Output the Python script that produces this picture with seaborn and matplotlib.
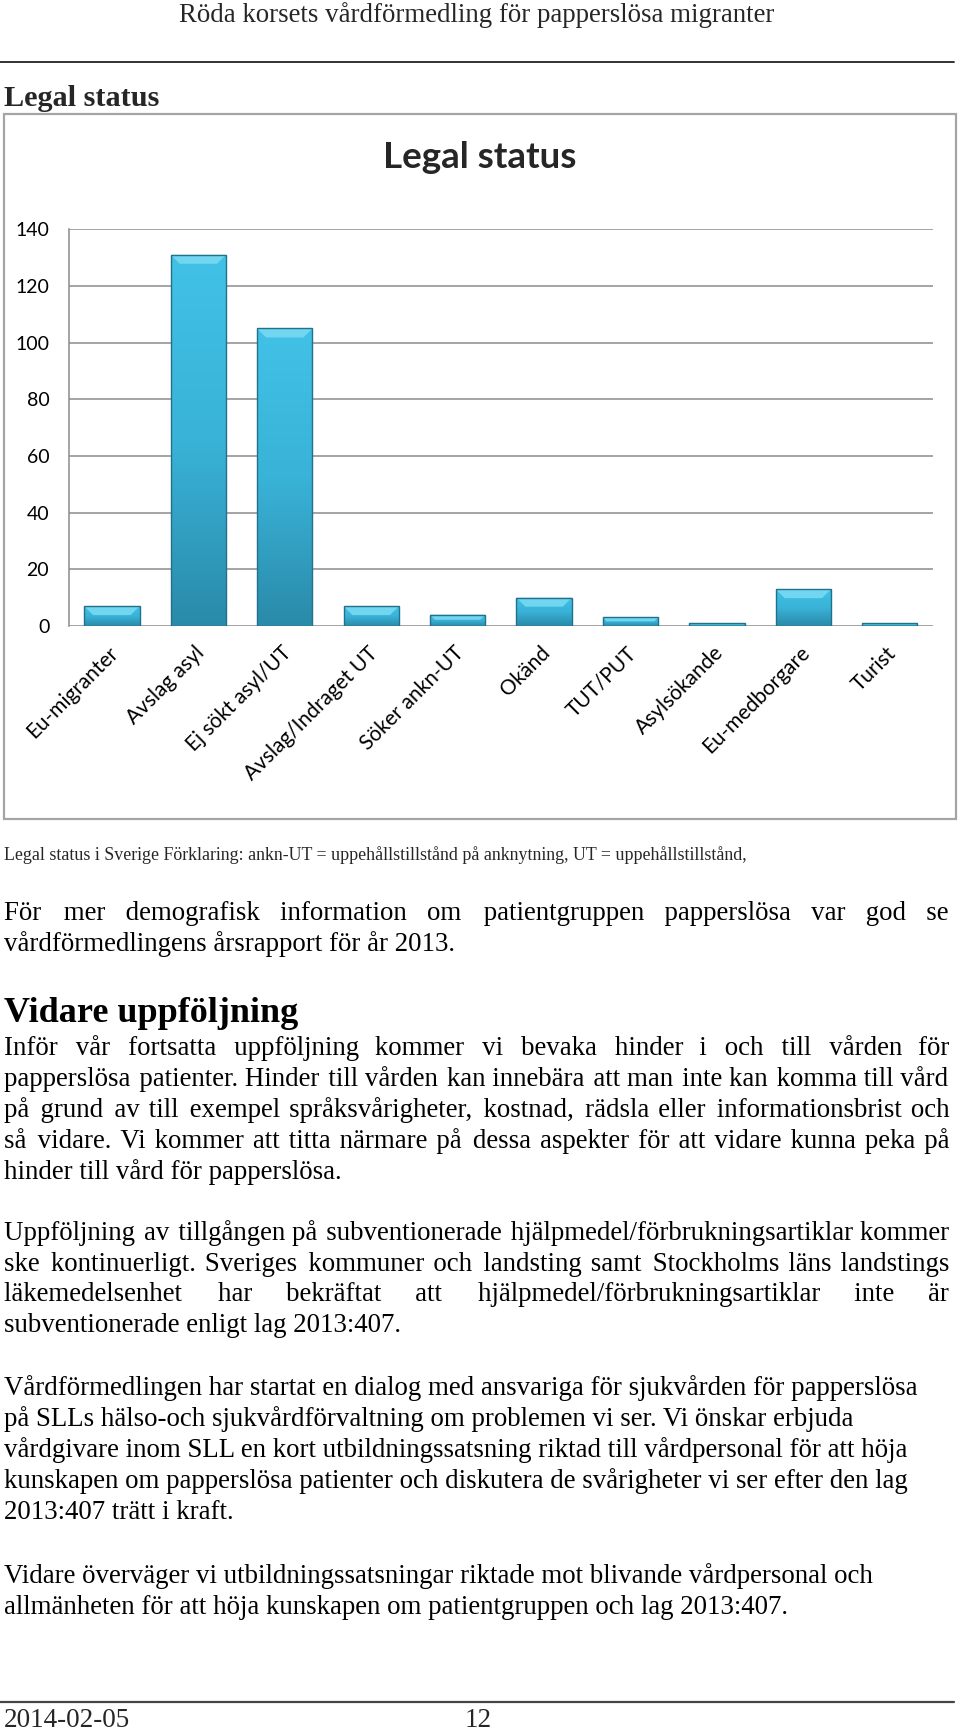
import numpy as np
import matplotlib
matplotlib.use("Agg")
import matplotlib.pyplot as plt
import seaborn as sns
from matplotlib.colors import LinearSegmentedColormap
from matplotlib.patches import Polygon, Rectangle
from matplotlib.lines import Line2D
import matplotlib.transforms as mtransforms

# ---------------- data ----------------
categories = ["Eu-migranter", "Avslag asyl", "Ej sökt asyl/UT", "Avslag/Indraget UT",
              "Söker ankn-UT", "Okänd", "TUT/PUT", "Asylsökande", "Eu-medborgare", "Turist"]
values = [7, 131, 105, 7, 4, 10, 3, 1, 13, 1]
y_ticks = [0, 20, 40, 60, 80, 100, 120, 140]
chart_title = "Legal status"

header_text = "Röda korsets vårdförmedling för papperslösa migranter"
section_title = "Legal status"
caption_text = ("Legal status i Sverige Förklaring: ankn-UT = uppehållstillstånd på anknytning, "
                "UT = uppehållstillstånd,")
para1 = [("För mer demografisk information om patientgruppen papperslösa var god se", True),
         ("vårdförmedlingens årsrapport för år 2013.", False)]
heading2 = "Vidare uppföljning"
para2 = [("Inför vår fortsatta uppföljning kommer vi bevaka hinder i och till vården för", True),
         ("papperslösa patienter. Hinder till vården kan innebära att man inte kan komma till vård", True),
         ("på grund av till exempel språksvårigheter, kostnad, rädsla eller informationsbrist och", True),
         ("så vidare. Vi kommer att titta närmare på dessa aspekter för att vidare kunna peka på", True),
         ("hinder till vård för papperslösa.", False)]
para3 = [("Uppföljning av tillgången på subventionerade hjälpmedel/förbrukningsartiklar kommer", True),
         ("ske kontinuerligt. Sveriges kommuner och landsting samt Stockholms läns landstings", True),
         ("läkemedelsenhet har bekräftat att hjälpmedel/förbrukningsartiklar inte är", True),
         ("subventionerade enligt lag 2013:407.", False)]
para4 = [("Vårdförmedlingen har startat en dialog med ansvariga för sjukvården för papperslösa", False),
         ("på SLLs hälso-och sjukvårdförvaltning om problemen vi ser. Vi önskar erbjuda", False),
         ("vårdgivare inom SLL en kort utbildningssatsning riktad till vårdpersonal för att höja", False),
         ("kunskapen om papperslösa patienter och diskutera de svårigheter vi ser efter den lag", False),
         ("2013:407 trätt i kraft.", False)]
para5 = [("Vidare överväger vi utbildningssatsningar riktade mot blivande vårdpersonal och", False),
         ("allmänheten för att höja kunskapen om patientgruppen och lag 2013:407.", False)]
footer_date = "2014-02-05"
footer_page = "12"

# ---------------- style ----------------
sns.set_theme(style="white")
SERIF = ["Liberation Serif", "DejaVu Serif"]
SANS = ["Lato", "DejaVu Sans"]
plt.rcParams["font.family"] = SANS

W, H = 960, 1730
fig = plt.figure(figsize=(W / 100, H / 100), dpi=100)
fig.patch.set_facecolor("white")

# page layer (pixel coordinates)
page = fig.add_axes([0, 0, 1, 1], zorder=0)
page.set_xlim(0, W)
page.set_ylim(H, 0)
page.axis("off")

# chart frame
page.add_patch(Rectangle((3.5, 114), 952, 705, fill=False, edgecolor="#A5A5A5", lw=1.6))

# ---------------- chart ----------------
L, R, T, B = 68.7, 933, 229.3, 626
ax = fig.add_axes([L / W, 1 - B / H, (R - L) / W, (B - T) / H], zorder=2)
ax.set_facecolor("none")

sns.barplot(x=categories, y=values, color="#38B2D6", saturation=1, width=0.64,
            ax=ax, zorder=3)
ax.set_ylim(0, 140)
ax.set_xlim(-0.5, len(categories) - 0.5)
ax.set_yticks(y_ticks)
ax.yaxis.grid(True, color="#8C8C8C", lw=1.1, zorder=0)
ax.set_axisbelow(True)
for s in ["top", "right", "bottom"]:
    ax.spines[s].set_visible(False)
ax.spines["left"].set_color("#8C8C8C")
ax.spines["left"].set_linewidth(1.1)
ax.set_xlabel("")
ax.set_ylabel("")
ax.tick_params(axis="y", length=0, pad=14, labelsize=14, labelcolor="black")
ax.tick_params(axis="x", length=0, pad=12, labelsize=15, labelcolor="black")
for lab in ax.get_yticklabels():
    lab.set_fontfamily(SANS)
ax.set_xticks(range(len(categories)))
ax.set_xticklabels(categories, rotation=45, ha="right", rotation_mode="anchor", fontfamily=SANS)
offset = mtransforms.ScaledTranslation(-4 / 100, 0, fig.dpi_scale_trans)
for lab in ax.get_xticklabels():
    lab.set_transform(lab.get_transform() + offset)

# bar shading (gradient + bevel), derived from the bar patches
fig.canvas.draw()
p0 = ax.transData.transform((0, 0))
p1 = ax.transData.transform((1, 1))
dx_px = 1.0 / (p1[0] - p0[0])
dy_px = 1.0 / (p1[1] - p0[1])
grad_cmap = LinearSegmentedColormap.from_list("bar", ["#2A8AA9", "#39B3D8", "#42C1E6"])
grad = np.linspace(0, 1, 256).reshape(-1, 1)
for rect in list(ax.patches):
    x, w, h = rect.get_x(), rect.get_width(), rect.get_height()
    if h <= 0:
        continue
    rect.set_edgecolor("none")
    im = ax.imshow(grad, extent=[x, x + w, 0, h], origin="lower", aspect="auto",
                   cmap=grad_cmap, zorder=3.1)
    im.set_clip_path(rect)
    h_px = h / dy_px
    d = min(9.0, 0.45 * h_px)
    bevel = Polygon([(x, h), (x + w, h), (x + w - d * dx_px, h - d * dy_px),
                     (x + d * dx_px, h - d * dy_px)], closed=True,
                    facecolor="#72D6F1", edgecolor="none", zorder=3.2)
    ax.add_patch(bevel)
    ax.add_patch(Rectangle((x, 0), w, h, fill=False, edgecolor="#23708A", lw=1.0, zorder=3.3))
ax.set_xlim(-0.5, len(categories) - 0.5)
ax.set_ylim(0, 140)

page.text(480, 157, chart_title, fontsize=26.5, fontweight="bold", family=SANS,
          ha="center", va="center")

# ---------------- page text ----------------
renderer = fig.canvas.get_renderer()
X0, X1 = 4, 949
BODY = 19.4
HAIR = "\u200a"


def text_width(s, size, weight="normal"):
    t = page.text(0, 0, s, fontsize=size, family=SERIF, weight=weight)
    wpx = t.get_window_extent(renderer).width
    t.remove()
    return wpx


def put_line(text, y, size=BODY, justify=False, weight="normal"):
    s = text
    if justify:
        words = text.split(" ")
        ngaps = len(words) - 1
        natural = text_width(text, size, weight)
        hair_w = (text_width("a" + HAIR * 20 + "a", size, weight) - text_width("aa", size, weight)) / 20
        extra = (X1 - X0) - natural
        n_total = max(0, int(round(extra / hair_w)))
        base, rem = divmod(n_total, ngaps)
        # spread the remainder evenly across gaps
        extra_idx = set(int(k * ngaps / rem) for k in range(rem)) if rem else set()
        parts = [words[0]]
        for g in range(ngaps):
            n = base + (1 if g in extra_idx else 0)
            parts.append(" " + HAIR * n + words[g + 1])
        s = "".join(parts)
    page.text(X0, y, s, fontsize=size, family=SERIF, weight=weight,
              ha="left", va="baseline", color="black")


page.text(477, 22.5, header_text, fontsize=19.4, family=SERIF, ha="center", va="baseline")
page.add_line(Line2D([0, 954], [62, 62], color="#222222", lw=1.3))
page.text(4, 106, section_title, fontsize=21.8, family=SERIF, weight="bold", ha="left", va="baseline")

page.text(X0, 860, caption_text, fontsize=12.9, family=SERIF, ha="left", va="baseline")

for (line, j), y in zip(para1, [920, 951]):
    put_line(line, y, justify=j)
put_line(heading2, 1022, size=26, weight="bold")
for (line, j), y in zip(para2, [1055, 1086, 1117, 1148, 1179]):
    put_line(line, y, justify=j)
for (line, j), y in zip(para3, [1240, 1271, 1301, 1332]):
    put_line(line, y, justify=j)
for (line, j), y in zip(para4, [1395, 1426, 1457, 1488, 1519]):
    put_line(line, y, justify=j)
for (line, j), y in zip(para5, [1583, 1614]):
    put_line(line, y, justify=j)

page.add_line(Line2D([0, 954], [1702, 1702], color="#444444", lw=1.6))
page.text(X0, 1727, footer_date, fontsize=19.5, family=SERIF, ha="left", va="baseline")
page.text(478, 1727, footer_page, fontsize=19.5, family=SERIF, ha="center", va="baseline")

fig.savefig("out.png", dpi=100, facecolor="white")
